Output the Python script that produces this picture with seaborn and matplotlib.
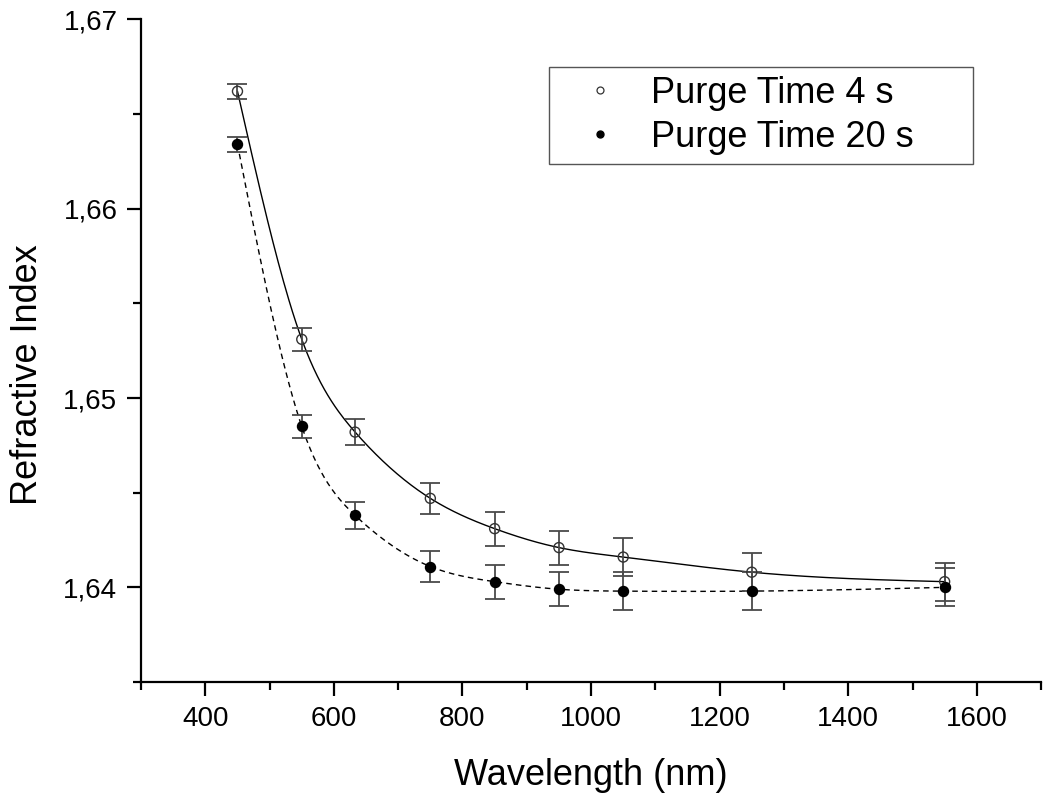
import numpy as np
import pandas as pd
import matplotlib
matplotlib.use('Agg')
import matplotlib.pyplot as plt
from matplotlib.lines import Line2D
from matplotlib.ticker import MultipleLocator, FixedLocator, FuncFormatter
import seaborn as sns

# Data
wavelength = [450, 550, 633, 750, 850, 950, 1050, 1250, 1550]
n_4s = [1.6662, 1.6531, 1.6482, 1.6447, 1.6431, 1.6421, 1.6416, 1.6408, 1.6403]
err_4s = [0.0004, 0.0006, 0.0007, 0.0008, 0.0009, 0.0009, 0.0010, 0.0010, 0.0010]
n_20s = [1.6634, 1.6485, 1.6438, 1.6411, 1.6403, 1.6399, 1.6398, 1.6398, 1.6400]
err_20s = [0.0004, 0.0006, 0.0007, 0.0008, 0.0009, 0.0009, 0.0010, 0.0010, 0.0010]
labels = ['Purge Time 4 s', 'Purge Time 20 s']


def spline_curve(x, y, num=400):
    # natural cubic spline used as the smooth connecting line
    x = np.asarray(x, float)
    y = np.asarray(y, float)
    n = len(x)
    h = np.diff(x)
    A = np.zeros((n, n))
    b = np.zeros(n)
    A[0, 0] = A[-1, -1] = 1
    for i in range(1, n - 1):
        A[i, i - 1] = h[i - 1]
        A[i, i] = 2 * (h[i - 1] + h[i])
        A[i, i + 1] = h[i]
        b[i] = 3 * ((y[i + 1] - y[i]) / h[i] - (y[i] - y[i - 1]) / h[i - 1])
    c = np.linalg.solve(A, b)
    bb = (y[1:] - y[:-1]) / h - h * (2 * c[:-1] + c[1:]) / 3
    d = (c[1:] - c[:-1]) / (3 * h)
    xs = np.linspace(x[0], x[-1], num)
    idx = np.clip(np.searchsorted(x, xs) - 1, 0, n - 2)
    dx = xs - x[idx]
    ys = y[idx] + bb[idx] * dx + c[idx] * dx ** 2 + d[idx] * dx ** 3
    return xs, ys


sns.set_style('ticks')
plt.rcParams['font.family'] = ['Liberation Sans', 'DejaVu Sans']
plt.rcParams['text.color'] = 'black'
plt.rcParams['axes.labelcolor'] = 'black'
plt.rcParams['xtick.labelcolor'] = 'black'
plt.rcParams['ytick.labelcolor'] = 'black'

fig = plt.figure(figsize=(10.44, 7.96), dpi=100)
ax = fig.add_axes([0.1351, 0.1432, 0.8621, 0.8325])

# smooth connecting curves
xs4, ys4 = spline_curve(wavelength, n_4s)
xs20, ys20 = spline_curve(wavelength, n_20s)
curves = pd.concat([
    pd.DataFrame({'x': xs4, 'y': ys4, 'set': labels[0]}),
    pd.DataFrame({'x': xs20, 'y': ys20, 'set': labels[1]}),
])
sns.lineplot(data=curves, x='x', y='y', style='set', color='black',
             dashes={labels[0]: '', labels[1]: (4, 3)}, linewidth=1.0,
             legend=False, sort=False, estimator=None, ax=ax, zorder=2)

# error bars
ax.errorbar(wavelength, n_4s, yerr=err_4s, fmt='none', ecolor='#4a4a4a',
            elinewidth=1.3, capsize=7.5, capthick=1.3, zorder=3)
ax.errorbar(wavelength, n_20s, yerr=err_20s, fmt='none', ecolor='#4a4a4a',
            elinewidth=1.3, capsize=7.5, capthick=1.3, zorder=3)

# markers
sns.scatterplot(x=wavelength, y=n_4s, marker='o', s=52, color='white',
                edgecolor='#333333', linewidth=1.0, ax=ax, zorder=4)
ax.collections[-1].set_facecolor('none')
sns.scatterplot(x=wavelength, y=n_20s, marker='o', s=52, color='black',
                edgecolor='black', linewidth=1.0, ax=ax, zorder=4)

ax.set_xlim(300, 1700)
ax.set_ylim(1.635, 1.67)
ax.xaxis.set_major_locator(FixedLocator([400, 600, 800, 1000, 1200, 1400, 1600]))
ax.xaxis.set_minor_locator(MultipleLocator(100))
ax.yaxis.set_major_locator(FixedLocator([1.64, 1.65, 1.66, 1.67]))
ax.yaxis.set_minor_locator(FixedLocator([1.635, 1.645, 1.655, 1.665]))
ax.yaxis.set_major_formatter(FuncFormatter(lambda v, p: f'{v:.2f}'.replace('.', ',')))

for side in ['top', 'right']:
    ax.spines[side].set_visible(False)
for side in ['left', 'bottom']:
    ax.spines[side].set_linewidth(1.6)
    ax.spines[side].set_color('black')

ax.tick_params(which='major', direction='out', length=10, width=1.6,
               labelsize=20, color='black', labelcolor='black', pad=7)
ax.tick_params(which='minor', direction='out', length=5.5, width=1.6, color='black')

ax.set_xlabel('Wavelength (nm)', fontsize=26, color='black')
ax.set_ylabel('Refractive Index', fontsize=26, color='black')
ax.xaxis.set_label_coords(0.5, -0.114)
ax.yaxis.set_label_coords(-0.107, 0.464)

handles = [
    Line2D([], [], linestyle='none', marker='o', markersize=5,
           markerfacecolor='none', markeredgecolor='#333333', markeredgewidth=0.9),
    Line2D([], [], linestyle='none', marker='o', markersize=5,
           markerfacecolor='black', markeredgecolor='black'),
]
leg = ax.legend(handles, labels, loc='upper left',
                bbox_to_anchor=(0.453, 0.785, 0.471, 0.143), mode='expand',
                fontsize=26, frameon=True, fancybox=False, framealpha=1,
                edgecolor='#555555', handlelength=2.33, handletextpad=0.25,
                borderpad=0.25, labelspacing=0.25, borderaxespad=0,
                labelcolor='black')
leg.get_frame().set_linewidth(1.0)

fig.savefig('out.png', dpi=100)
plt.close(fig)
